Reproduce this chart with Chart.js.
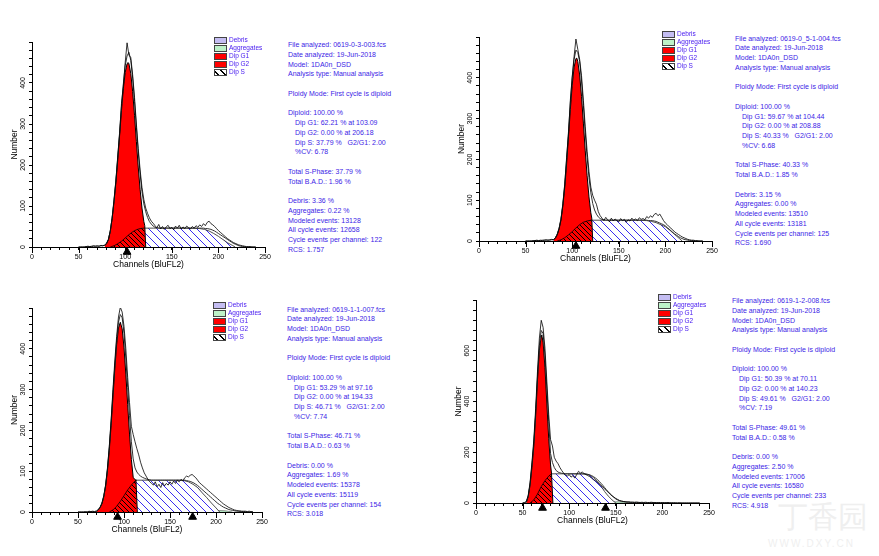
<!DOCTYPE html>
<html>
<head>
<meta charset="utf-8">
<script src="https://cdn.jsdelivr.net/npm/chart.js@4.4.0/dist/chart.umd.min.js"></script>
<style>
  body { margin: 0; background: #fff; width: 879px; height: 556px; overflow: hidden; position: relative;
         font-family: "Liberation Sans", Arial, sans-serif; }
  canvas { position: absolute; }
  .info { position: absolute; font-size: 7px; line-height: 9.75px; color: #3c1ee6; white-space: pre; }
  .info .ind { padding-left: 7px; }
  .legend { position: absolute; font-size: 6.5px; color: #4a1ef0; }
  .legend div { position: relative; height: 8.1px; line-height: 8.1px; padding-left: 15px; white-space: nowrap; }
  .legend span { position: absolute; left: 0; top: 0.6px; width: 11px; height: 5.5px; border: 1px solid #444; }
  .wm { position: absolute; color: #efefef; white-space: nowrap; }
</style>
</head>
<body>
<canvas id="c1"></canvas>
<canvas id="c2"></canvas>
<canvas id="c3"></canvas>
<canvas id="c4"></canvas>
<div class="wm" style="left:778px;top:497px;font-size:30px;">丁香园</div>
<div class="wm" style="left:768px;top:538px;font-size:10px;letter-spacing:2px;">WWW.DXY.CN</div>
<script>
const FONT = '"Liberation Sans", Arial, sans-serif';

// channel grid for the raw histograms and fitted totals
const channels = [
  50,52,54,56,58,60,62,64,66,68,
  70,72,74,76,78,80,82,84,86,88,
  90,92,94,96,98,100,102,104,106,108,
  110,112,114,116,118,120,122,124,126,128,
  130,132,134,136,138,140,142,144,146,148,
  150,152,154,156,158,160,162,164,166,168,
  170,172,174,176,178,180,182,184,186,188,
  190,192,194,196,198,200,202,204,206,208,
  210,212,214,216,218,220,222,224,226,228,
  230,232,234,236,238,240
];

// ---- panel 1 : 0619-0-3-003
const raw1 = [
  0,0,0,0,1,2,1,2,3,2,
  3,2,4,3,5,9,18,40,70,116,
  160,222,276,350,392,450,498,468,462,420,
  365,300,240,188,145,116,95,82,71,63,
  58,52,47,55,44,50,43,49,53,45,
  48,42,51,46,53,44,49,45,51,47,
  44,50,46,52,48,54,50,57,52,60,
  63,57,54,50,45,40,36,32,28,24,
  20,17,14,11,9,7,5,4,3,2,
  1,1,1,0,0,0
];
const fit1 = [
  0,0,0,0,1,1,1,1,2,2,
  2,2,3,3,4,9,19,39,72,113,
  163,218,280,343,398,442,466,475,455,412,
  355,292,232,178,135,105,86,72,62,56,
  51,48,47,46,46,46,46,46,46,46,
  46,46,46,46,46,46,46,46,46,46,
  46,46,46,46,46,46,46,46,45,45,
  44,43,41,39,36,33,30,27,24,21,
  18,15,12,9,7,5,3,2,1,1,
  0,0,0,0,0,0
];
const g1Ch1 = [78,80,82,84,86,88,90,92,94,96,98,100,102,103,104,106,108,110,112,114,116,118,120,121,122];
const g1Val1 = [3,8,18,38,70,110,158,212,272,333,386,426,447,450,447,423,379,321,257,195,140,95,62,52,0];
const sRiseCh1 = [84,88,92,96,100,104,108,112,116,120,121];
const sRiseVal1 = [0,3,8,14,22,30,37,42,45,46,46];
const sCh1 = [121,130,140,150,160,170,180,185,190,195,200,205,210,215,218];
const sVal1 = [46,46,46,46,46,46,45,43,39,33,26,18,10,4,0];
const aggCh1 = [];
const aggVal1 = [];
const markers1 = [102];
const info1 = [
  'File analyzed: 0619-0-3-003.fcs', 'Date analyzed: 19-Jun-2018', 'Model: 1DA0n_DSD',
  'Analysis type: Manual analysis', '', 'Ploidy Mode: First cycle is diploid', '',
  'Diploid: 100.00 %', '>Dip G1: 62.21 % at 103.09', '>Dip G2: 0.00 % at 206.18',
  '>Dip S: 37.79 %   G2/G1: 2.00', '>%CV: 6.78', '',
  'Total S-Phase: 37.79 %', 'Total B.A.D.: 1.96 %', '',
  'Debris: 3.36 %', 'Aggregates: 0.22 %', 'Modeled events: 13128',
  'All cycle events: 12658', 'Cycle events per channel: 122', 'RCS: 1.757'
];

// ---- panel 2 : 0619-0_5-1-004
const raw2 = [
  0,0,0,0,1,1,2,1,2,1,
  2,3,2,3,4,3,7,15,30,52,
  90,138,205,262,345,402,452,495,470,445,
  405,345,280,220,170,132,112,100,90,72,
  62,56,50,58,52,47,56,49,54,50,
  47,55,50,53,46,52,49,56,51,54,
  50,57,53,55,52,60,56,62,58,65,
  68,62,66,58,50,44,40,35,31,27,
  22,19,16,13,10,8,6,4,3,2,
  2,1,1,0,0,0
];
const fit2 = [
  0,0,0,0,0,1,1,1,1,2,
  2,2,2,2,3,3,8,17,32,56,
  92,140,200,268,338,400,445,468,462,440,
  392,332,265,205,155,118,92,76,66,59,
  55,53,52,51,51,51,51,51,51,51,
  51,51,51,51,51,51,51,51,51,51,
  51,51,51,51,51,51,50,50,50,49,
  48,46,44,42,40,37,33,29,25,21,
  17,14,11,8,6,4,3,2,1,1,
  1,0,0,0,0,0
];
const g1Ch2 = [80,82,84,86,88,90,92,94,96,98,100,102,104,105,106,108,110,112,114,116,118,120,121,122];
const g1Val2 = [3,8,17,31,53,87,132,189,255,322,382,426,447,448,440,407,354,289,221,160,108,69,56,0];
const sRiseCh2 = [84,88,92,96,100,104,108,112,116,120,121];
const sRiseVal2 = [0,3,8,15,23,32,40,46,49,51,51];
const sCh2 = [121,130,140,150,160,170,180,185,190,195,200,205,210,215,218];
const sVal2 = [51,51,51,51,51,51,50,48,45,40,35,26,16,6,0];
const aggCh2 = [];
const aggVal2 = [];
const markers2 = [104];
const info2 = [
  'File analyzed: 0619-0_5-1-004.fcs', 'Date analyzed: 19-Jun-2018', 'Model: 1DA0n_DSD',
  'Analysis type: Manual analysis', '', 'Ploidy Mode: First cycle is diploid', '',
  'Diploid: 100.00 %', '>Dip G1: 59.67 % at 104.44', '>Dip G2: 0.00 % at 208.88',
  '>Dip S: 40.33 %   G2/G1: 2.00', '>%CV: 6.68', '',
  'Total S-Phase: 40.33 %', 'Total B.A.D.: 1.85 %', '',
  'Debris: 3.15 %', 'Aggregates: 0.00 %', 'Modeled events: 13510',
  'All cycle events: 13181', 'Cycle events per channel: 125', 'RCS: 1.690'
];

// ---- panel 3 : 0619-1-1-007
const raw3 = [
  0,0,0,0,1,0,2,1,2,1,
  3,6,12,22,40,66,108,160,225,300,
  370,430,478,502,490,455,400,330,268,210,
  190,172,155,140,122,108,96,88,80,74,
  70,66,74,62,68,60,72,64,70,66,
  74,68,76,70,78,74,80,76,84,88,
  86,90,92,88,84,78,72,68,64,60,
  56,52,48,44,40,36,32,28,24,20,
  17,14,11,9,7,5,4,3,3,2,
  2,2,1,2,1,1
];
const fit3 = [
  0,0,0,0,0,0,1,1,1,1,
  1,5,11,21,38,65,105,158,222,293,
  359,421,465,484,476,438,375,305,236,172,
  130,108,98,92,88,85,83,81,80,79,
  78,78,78,78,78,78,78,78,78,78,
  78,78,78,78,78,78,78,78,78,77,
  76,75,73,71,68,65,61,57,53,49,
  45,41,37,33,29,25,21,18,15,12,
  10,8,6,5,4,3,2,2,1,1,
  1,1,0,0,0,0
];
const g1Ch3 = [70,72,74,76,78,80,82,84,86,88,90,92,94,96,98,100,102,104,106,108,110,112,113,114.5];
const g1Val3 = [1,5,11,20,37,63,101,151,213,282,351,410,451,465,449,403,338,263,191,129,85,79,78,0];
const sRiseCh3 = [84,88,92,96,100,104,108,112,113];
const sRiseVal3 = [0,5,14,26,40,54,66,76,78];
const sCh3 = [113,120,130,140,150,160,165,170,175,180,185,190,195,200,204];
const sVal3 = [78,78,78,78,78,78,77,74,68,60,47,35,22,10,0];
const aggCh3 = [176,182,190,200,210,218];
const aggVal3 = [0,3,4,4,3,0];
const markers3 = [93, 174.6];
const info3 = [
  'File analyzed: 0619-1-1-007.fcs', 'Date analyzed: 19-Jun-2018', 'Model: 1DA0n_DSD',
  'Analysis type: Manual analysis', '', 'Ploidy Mode: First cycle is diploid', '',
  'Diploid: 100.00 %', '>Dip G1: 53.29 % at 97.16', '>Dip G2: 0.00 % at 194.33',
  '>Dip S: 46.71 %   G2/G1: 2.00', '>%CV: 7.74', '',
  'Total S-Phase: 46.71 %', 'Total B.A.D.: 0.63 %', '',
  'Debris: 0.00 %', 'Aggregates: 1.69 %', 'Modeled events: 15378',
  'All cycle events: 15119', 'Cycle events per channel: 154', 'RCS: 3.018'
];

// ---- panel 4 : 0619-1-2-008
const raw4 = [
  0,2,6,30,80,158,248,372,520,650,
  720,692,610,480,350,250,225,180,165,155,
  140,128,118,110,106,112,102,108,98,112,
  125,118,122,116,112,108,104,98,92,88,
  82,76,70,64,56,48,42,34,28,22,
  16,12,9,7,6,5,4,5,3,4,
  3,4,3,2,3,2,3,2,2,3,
  2,2,1,2,1,2,1,1,2,1,
  1,1,1,0,1,0,0,0,0,0,
  0,0,0,0,0,0
];
const fit4 = [
  0,1,4,27,75,150,235,355,500,620,
  680,668,580,450,320,195,160,140,128,122,
  119,117,116,115,115,115,115,115,115,115,
  115,115,115,115,114,113,111,108,104,99,
  93,86,78,70,61,52,44,36,29,23,
  18,14,10,8,6,5,4,3,3,2,
  2,2,2,1,1,1,1,1,1,1,
  1,1,1,1,1,1,1,1,1,0,
  0,0,0,0,0,0,0,0,0,0,
  0,0,0,0,0,0
];
const g1Ch4 = [54,56,58,60,62,64,66,68,70,70.5,72,74,76,78,80,81,82.5];
const g1Val4 = [2,25,70,140,225,345,485,602,658,662,634,534,394,255,150,118,0];
const sRiseCh4 = [58,62,66,70,74,78,81];
const sRiseVal4 = [0,12,35,65,88,106,115];
const sCh4 = [81,90,100,110,118,122,126,130,134,138,142,146,150];
const sVal4 = [115,115,115,115,114,110,100,86,68,45,27,12,0];
const aggCh4 = [138,145,152,160,170];
const aggVal4 = [0,4,5,3,0];
const markers4 = [71.4, 139];
const info4 = [
  'File analyzed: 0619-1-2-008.fcs', 'Date analyzed: 19-Jun-2018', 'Model: 1DA0n_DSD',
  'Analysis type: Manual analysis', '', 'Ploidy Mode: First cycle is diploid', '',
  'Diploid: 100.00 %', '>Dip G1: 50.39 % at 70.11', '>Dip G2: 0.00 % at 140.23',
  '>Dip S: 49.61 %   G2/G1: 2.00', '>%CV: 7.19', '',
  'Total S-Phase: 49.61 %', 'Total B.A.D.: 0.58 %', '',
  'Debris: 0.00 %', 'Aggregates: 2.50 %', 'Modeled events: 17006',
  'All cycle events: 16580', 'Cycle events per channel: 233', 'RCS: 4.918'
];

const legendLabels = ['Debris', 'Aggregates', 'Dip G1', 'Dip G2', 'Dip S'];
const xTickLabelStep = 50;

// layout of the four panels (plot frame in page pixels)
const panels = [
  { id: 'c1', l: 32,  t: 42,  r: 265, b: 247, yMax: 500, yStep: 20, yLab: 100,
    raw: raw1, fit: fit1, g1Ch: g1Ch1, g1Val: g1Val1, riseCh: sRiseCh1, riseVal: sRiseVal1,
    sCh: sCh1, sVal: sVal1, aggCh: aggCh1, aggVal: aggVal1, markers: markers1,
    info: info1, infoAt: [288, 45], legendAt: [214, 40] },
  { id: 'c2', l: 479, t: 37,  r: 712, b: 241, yMax: 500, yStep: 20, yLab: 100,
    raw: raw2, fit: fit2, g1Ch: g1Ch2, g1Val: g1Val2, riseCh: sRiseCh2, riseVal: sRiseVal2,
    sCh: sCh2, sVal: sVal2, aggCh: aggCh2, aggVal: aggVal2, markers: markers2,
    info: info2, infoAt: [735, 38.5], legendAt: [662, 34] },
  { id: 'c3', l: 32,  t: 308, r: 262, b: 512, yMax: 500, yStep: 20, yLab: 100,
    raw: raw3, fit: fit3, g1Ch: g1Ch3, g1Val: g1Val3, riseCh: sRiseCh3, riseVal: sRiseVal3,
    sCh: sCh3, sVal: sVal3, aggCh: aggCh3, aggVal: aggVal3, markers: markers3,
    info: info3, infoAt: [287, 309.5], legendAt: [213, 305] },
  { id: 'c4', l: 476, t: 300, r: 709, b: 503, yMax: 800, yStep: 40, yLab: 200,
    raw: raw4, fit: fit4, g1Ch: g1Ch4, g1Val: g1Val4, riseCh: sRiseCh4, riseVal: sRiseVal4,
    sCh: sCh4, sVal: sVal4, aggCh: aggCh4, aggVal: aggVal4, markers: markers4,
    info: info4, infoAt: [732, 301], legendAt: [658, 297] }
];

const Y_AXIS_W = 34, X_AXIS_H = 24, PAD_T = 12, PAD_R = 12;

function hatch(color, bg, size) {
  const c = document.createElement('canvas');
  c.width = size; c.height = size;
  const g = c.getContext('2d');
  if (bg) { g.fillStyle = bg; g.fillRect(0, 0, size, size); }
  g.strokeStyle = color;
  g.lineWidth = 1;
  g.beginPath();
  g.moveTo(0, 0); g.lineTo(size, size);
  g.moveTo(-1, size - 1); g.lineTo(1, size + 1);
  g.moveTo(size - 1, -1); g.lineTo(size + 1, 1);
  g.stroke();
  return g.createPattern(c, 'repeat');
}

function pts(xs, ys) {
  return xs.map((x, i) => ({ x: x, y: ys[i] }));
}

// longer marks on labelled channel ticks
const majorTicks = {
  id: 'majorTicks',
  afterDraw(chart) {
    const sx = chart.scales.x, ctx = chart.ctx, b = chart.chartArea.bottom;
    ctx.save();
    ctx.strokeStyle = '#000';
    ctx.lineWidth = 1;
    sx.ticks.forEach(t => {
      if (t.value % xTickLabelStep === 0) {
        const px = Math.round(sx.getPixelForValue(t.value)) + 0.5;
        ctx.beginPath(); ctx.moveTo(px, b); ctx.lineTo(px, b + 6); ctx.stroke();
      }
    });
    ctx.restore();
  }
};

const blueHatch = hatch('#3a2cf0', '#ffffff', 8);
const blackHatch = hatch('#000000', null, 5);

panels.forEach(p => {
  const cv = document.getElementById(p.id);
  const w = p.r - p.l + Y_AXIS_W + PAD_R;
  const h = p.b - p.t + PAD_T + X_AXIS_H;
  cv.width = w; cv.height = h;
  cv.style.left = (p.l - Y_AXIS_W) + 'px';
  cv.style.top = (p.t - PAD_T) + 'px';
  cv.style.width = w + 'px';
  cv.style.height = h + 'px';

  const markerY = -p.yMax * 0.0245;

  new Chart(cv, {
    type: 'line',
    data: {
      datasets: [
        { label: 'peaks', data: p.markers.map(c => ({ x: c, y: markerY })), showLine: false,
          pointStyle: 'triangle', pointRadius: 4.5, borderWidth: 1,
          pointBackgroundColor: '#000', pointBorderColor: '#000', clip: false },
        { label: 'raw', data: pts(channels, p.raw), borderColor: '#000', borderWidth: 0.8,
          pointRadius: 0, fill: false },
        { label: 'fit', data: pts(channels, p.fit), borderColor: '#333', borderWidth: 1,
          pointRadius: 0, fill: false },
        { label: 'S under G1', data: pts(p.riseCh, p.riseVal), borderColor: '#000', borderWidth: 0.8,
          pointRadius: 0, backgroundColor: blackHatch, fill: 'origin' },
        { label: 'Dip G1', data: pts(p.g1Ch, p.g1Val), borderColor: '#000', borderWidth: 1,
          pointRadius: 0, backgroundColor: '#ff0000', fill: 'origin' },
        { label: 'Dip S', data: pts(p.sCh, p.sVal), borderColor: '#222', borderWidth: 0.8,
          pointRadius: 0, backgroundColor: blueHatch, fill: 'origin' },
        { label: 'Aggregates', data: pts(p.aggCh, p.aggVal), borderColor: '#555', borderWidth: 0.6,
          pointRadius: 0, backgroundColor: '#b8f0c8', fill: 'origin' }
      ]
    },
    options: {
      responsive: false,
      animation: false,
      events: [],
      layout: { padding: { left: 0, top: PAD_T, right: PAD_R, bottom: 0 } },
      plugins: { legend: { display: false }, tooltip: { enabled: false } },
      scales: {
        x: {
          type: 'linear', min: 0, max: 250,
          afterFit: s => { s.height = X_AXIS_H; },
          ticks: { stepSize: 10, autoSkip: false, minRotation: 0, maxRotation: 0, padding: 3,
                   color: '#000', font: { size: 7, family: FONT },
                   callback: v => v % xTickLabelStep === 0 ? String(v) : '' },
          grid: { drawOnChartArea: false, drawTicks: true, tickLength: 3, color: '#000', lineWidth: 1 },
          border: { display: true, color: '#000', width: 1 },
          title: { display: true, text: 'Channels (BluFL2)', color: '#000',
                   font: { size: 8.5, family: FONT }, padding: { top: 0, bottom: 1.2 } }
        },
        y: {
          type: 'linear', min: 0, max: p.yMax,
          afterFit: s => { s.width = Y_AXIS_W; },
          ticks: { stepSize: p.yStep, autoSkip: false, minRotation: 90, maxRotation: 90,
                   crossAlign: 'center', padding: 0.5, color: '#000', font: { size: 7, family: FONT },
                   callback: v => (v % p.yLab === 0 && v < p.yMax) ? String(v) : '' },
          grid: { drawOnChartArea: false, drawTicks: true, tickLength: 3, color: '#000', lineWidth: 1 },
          border: { display: true, color: '#000', width: 1 },
          title: { display: true, text: 'Number', color: '#000',
                   font: { size: 8.5, family: FONT }, padding: { top: 12, bottom: 0 } }
        }
      }
    },
    plugins: [majorTicks]
  });

  // text report
  const info = document.createElement('div');
  info.className = 'info';
  info.style.left = p.infoAt[0] + 'px';
  info.style.top = (p.infoAt[1] - 4.9) + 'px';
  p.info.forEach(line => {
    const d = document.createElement('div');
    if (line.startsWith('>')) { d.className = 'ind'; line = line.slice(1); }
    d.textContent = line || ' ';
    info.appendChild(d);
  });
  document.body.appendChild(info);

  // legend
  const swatches = [
    'background:#c4bdf2;',
    'background:#bdf2c8;',
    'background:#ff0000;',
    'background:#ff0000;',
    'background:#fff repeating-linear-gradient(45deg,#fff 0 2px,#000 2px 3px,#fff 3px 5px);'
  ];
  const lg = document.createElement('div');
  lg.className = 'legend';
  lg.style.left = p.legendAt[0] + 'px';
  lg.style.top = (p.legendAt[1] - 4) + 'px';
  legendLabels.forEach((name, i) => {
    const row = document.createElement('div');
    const sw = document.createElement('span');
    sw.style.cssText = swatches[i];
    row.appendChild(sw);
    row.appendChild(document.createTextNode(name));
    lg.appendChild(row);
  });
  document.body.appendChild(lg);
});
</script>
</body>
</html>
